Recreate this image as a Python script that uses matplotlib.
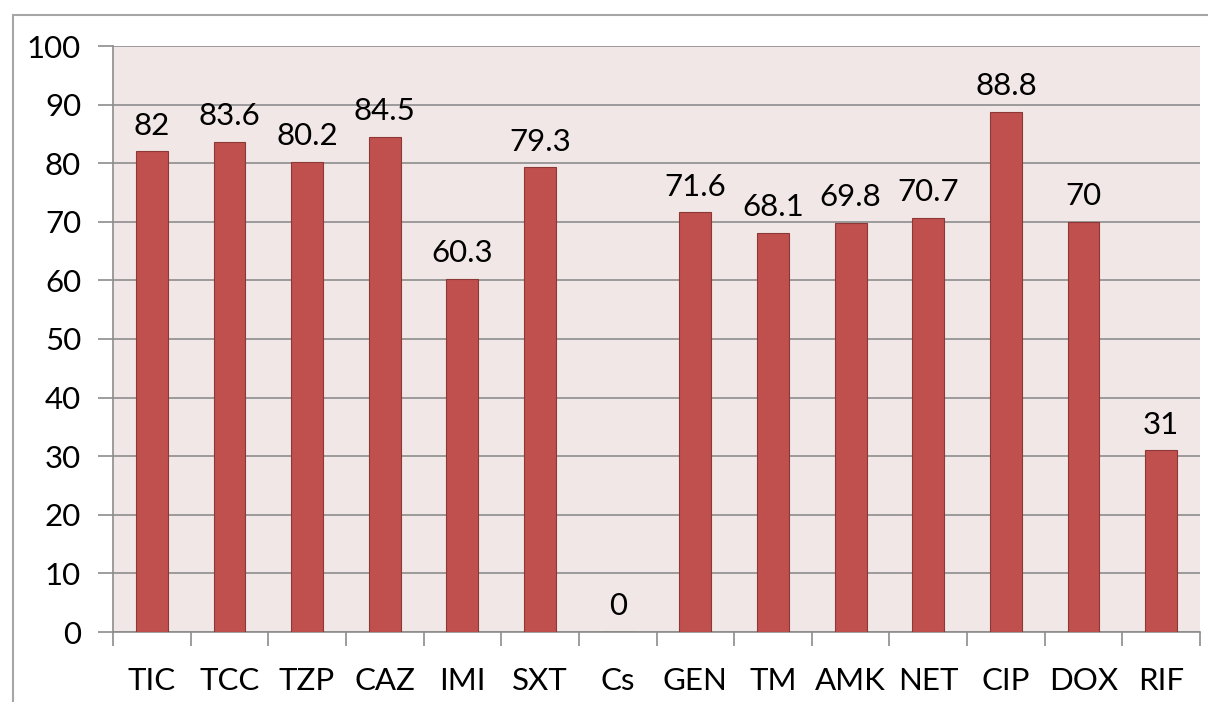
import matplotlib.pyplot as plt
from matplotlib.patches import Rectangle

# data
drugs = ['TIC', 'TCC', 'TZP', 'CAZ', 'IMI', 'SXT', 'Cs', 'GEN', 'TM',
         'AMK', 'NET', 'CIP', 'DOX', 'RIF']
values = [82, 83.6, 80.2, 84.5, 60.3, 79.3, 0, 71.6, 68.1, 69.8, 70.7,
          88.8, 70, 31]

plt.rcParams['font.family'] = ['Lato', 'DejaVu Sans']

fig = plt.figure(figsize=(12.08, 7.02), dpi=100)
W, H = 1208, 702

# outer chart border (cropped on right/bottom)
fig.patches.append(Rectangle((13 / W, -0.1), 1.2, (702 - 15) / H + 0.1,
                             transform=fig.transFigure, fill=False,
                             edgecolor='#a6a6a6', linewidth=1.5))

ax = fig.add_axes([113 / W, 70 / H, 1087 / W, 586 / H])
ax.set_facecolor('#f2e7e7')

x = list(range(len(drugs)))
ax.bar(x, values, width=0.41, color='#c0504d', edgecolor='#8c3836',
       linewidth=0.8, zorder=3)

for xi, v in zip(x, values):
    ax.text(xi, v + 2.0, '%g' % v, ha='center', va='bottom', fontsize=22.5,
            zorder=4)

ax.set_xlim(-0.5, len(drugs) - 0.5)
ax.set_ylim(0, 100)
ax.set_yticks(range(0, 101, 10))
ax.yaxis.grid(True, color='#8c8c8c', linewidth=1.2, zorder=1)

ax.set_xticks(x)
ax.set_xticklabels(drugs)
ax.set_xticks([i - 0.5 for i in range(len(drugs) + 1)], minor=True)
ax.tick_params(axis='x', which='major', length=0, pad=25, labelsize=22.5)
ax.tick_params(axis='x', which='minor', length=10, width=1.2, color='#8c8c8c')
ax.tick_params(axis='y', length=11, width=1.2, color='#8c8c8c', pad=12,
               labelsize=22.5)

for s in ['top', 'right']:
    ax.spines[s].set_visible(False)
for s in ['left', 'bottom']:
    ax.spines[s].set_color('#8c8c8c')
    ax.spines[s].set_linewidth(1.2)

plt.savefig('out.png', dpi=100)
